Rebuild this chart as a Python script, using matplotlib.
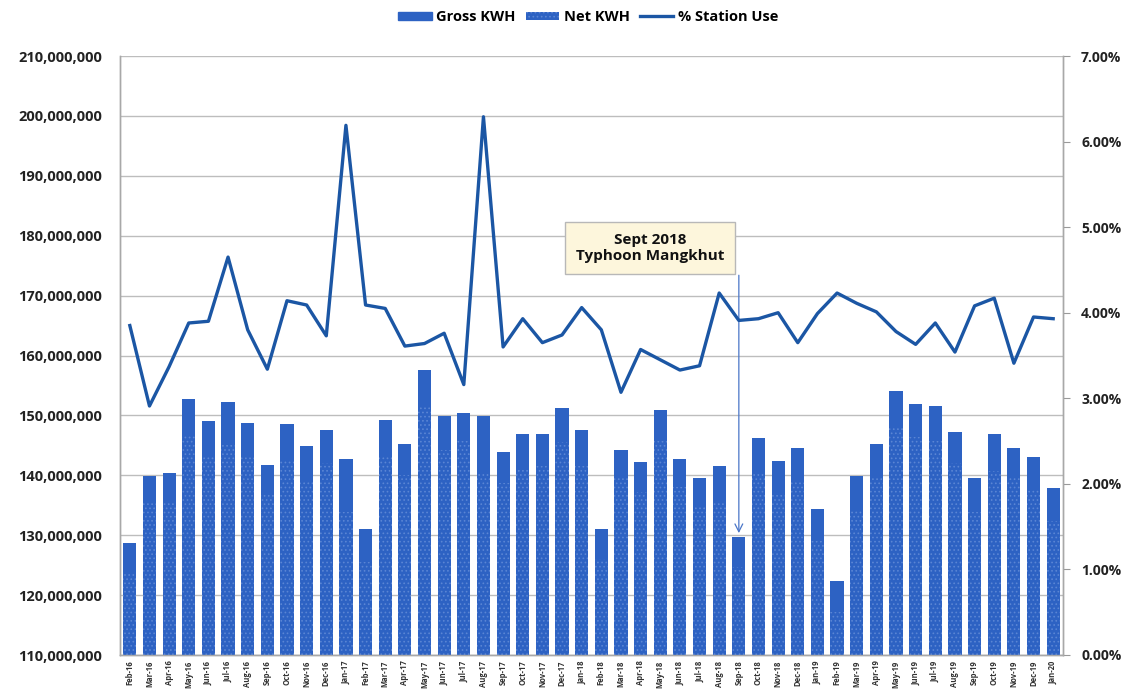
import matplotlib
matplotlib.use("Agg")
import matplotlib.pyplot as plt
from matplotlib.ticker import FuncFormatter, MultipleLocator
from matplotlib.patches import Patch
from matplotlib.lines import Line2D

months = ["Feb-16","Mar-16","Apr-16","May-16","Jun-16","Jul-16","Aug-16","Sep-16","Oct-16","Nov-16","Dec-16",
          "Jan-17","Feb-17","Mar-17","Apr-17","May-17","Jun-17","Jul-17","Aug-17","Sep-17","Oct-17","Nov-17","Dec-17",
          "Jan-18","Feb-18","Mar-18","Apr-18","May-18","Jun-18","Jul-18","Aug-18","Sep-18","Oct-18","Nov-18","Dec-18",
          "Jan-19","Feb-19","Mar-19","Apr-19","May-19","Jun-19","Jul-19","Aug-19","Sep-19","Oct-19","Nov-19","Dec-19",
          "Jan-20"]

gross_kwh = [128.75, 139.8, 140.4, 152.7, 149.1, 152.2, 148.8, 141.8, 148.6, 144.9, 147.6,
             142.7, 131.0, 149.2, 145.2, 157.5, 149.9, 150.4, 149.9, 143.9, 146.9, 146.9, 151.2,
             147.6, 131.0, 144.2, 142.3, 150.9, 142.7, 139.5, 141.6, 129.75, 146.3, 142.4, 144.5,
             134.4, 122.4, 139.8, 145.3, 154.1, 151.9, 151.6, 147.3, 139.5, 146.9, 144.5, 143.1,
             137.8]  # millions

net_kwh = [123.8, 135.7, 135.7, 146.8, 143.3, 145.1, 143.1, 137.1, 142.5, 139.0, 142.1,
           133.9, 125.6, 143.2, 140.0, 151.8, 144.3, 145.7, 140.5, 138.7, 141.1, 141.5, 145.5,
           141.6, 126.0, 139.8, 137.2, 145.7, 138.0, 134.8, 135.6, 124.7, 140.6, 136.7, 139.2,
           129.0, 117.2, 134.1, 139.5, 148.3, 146.4, 145.7, 142.1, 133.8, 140.8, 139.6, 137.5,
           132.4]  # millions

station_use_pct = [3.85, 2.91, 3.37, 3.88, 3.90, 4.65, 3.80, 3.34, 4.14, 4.09, 3.73,
                   6.19, 4.09, 4.05, 3.61, 3.64, 3.76, 3.16, 6.29, 3.60, 3.93, 3.65, 3.74,
                   4.06, 3.80, 3.07, 3.57, 3.45, 3.33, 3.38, 4.23, 3.91, 3.93, 4.00, 3.65,
                   3.99, 4.23, 4.11, 4.01, 3.78, 3.63, 3.88, 3.54, 4.08, 4.17, 3.41, 3.95,
                   3.93]

annotation_text = "Sept 2018\nTyphoon Mangkhut"
annotation_month = "Sep-18"

BAR = "#2d62c3"
HATCH = "#5a85d4"
LINE = "#1b56a4"
GRID = "#bdbdbd"
FONT = "Open Sans"

plt.rcParams["font.family"] = [FONT, "DejaVu Sans"]
plt.rcParams["hatch.linewidth"] = 0.7

fig = plt.figure(figsize=(11.36, 6.96), dpi=100)
ax = fig.add_axes([120/1136, 41/696, (1063-120)/1136, (655-56)/696])
ax2 = ax.twinx()

x = list(range(len(months)))
gross_units = [v * 1e6 for v in gross_kwh]
net_units = [v * 1e6 for v in net_kwh]

ax.bar(x, gross_units, width=0.67, color=BAR, zorder=2)
ax.bar(x, net_units, width=0.67, color=BAR, edgecolor=HATCH, hatch="....", linewidth=0, zorder=3)

ax.set_ylim(110e6, 210e6)
ax.set_xlim(-0.5, len(months) - 0.5)
ax.yaxis.set_major_locator(MultipleLocator(10e6))
ax.yaxis.set_major_formatter(FuncFormatter(lambda v, p: f"{v:,.0f}"))
ax.grid(axis="y", color=GRID, linewidth=1.0, zorder=0)
ax.set_axisbelow(True)
ax.set_xticks(x)
ax.set_xticklabels(months, rotation=90, fontsize=5.5, fontweight="bold", color="#333333")
ax.tick_params(axis="x", length=0, pad=4)
ax.tick_params(axis="y", length=0, labelsize=10.5, pad=13, labelcolor="#222222")
for lbl in ax.get_yticklabels():
    lbl.set_fontweight("bold")

ax2.plot(x, station_use_pct, color=LINE, linewidth=2.4, zorder=4)
ax2.set_ylim(0, 7)
ax2.yaxis.set_major_locator(MultipleLocator(1))
ax2.yaxis.set_major_formatter(FuncFormatter(lambda v, p: f"{v:.2f}%"))
ax2.tick_params(axis="y", length=5, width=0.8, color="#999999", labelsize=10, pad=8, labelcolor="#222222")
for lbl in ax2.get_yticklabels():
    lbl.set_fontweight("bold")

for a in (ax, ax2):
    a.spines["top"].set_visible(False)
    for s in ("left", "right", "bottom"):
        a.spines[s].set_color("#a8a8a8")
        a.spines[s].set_linewidth(1.0)

# annotation box and arrow
ai = months.index(annotation_month)
fig.text(650/1136, (696-248)/696, annotation_text, ha="center", va="center",
         fontsize=11, fontweight="bold", color="#111111", linespacing=1.15,
         bbox=dict(boxstyle="square,pad=0.72", fc="#fdf6dc", ec="#b8b8b8", lw=1.0),
         zorder=6)
ax.annotate("", xy=(ai, gross_units[ai] + 0.6e6), xytext=(ai, 173.4e6),
            arrowprops=dict(arrowstyle="->", color="#4a76c8", lw=0.9,
                            shrinkA=0, shrinkB=0, mutation_scale=14),
            zorder=6)

handles = [Patch(facecolor=BAR, edgecolor=BAR),
           Patch(facecolor=BAR, edgecolor=HATCH, hatch="....", linewidth=0),
           Line2D([0], [0], color=LINE, linewidth=2.4)]
fig.legend(handles, ["Gross KWH", "Net KWH", "% Station Use"], loc="center",
           bbox_to_anchor=(588/1136, (696-17)/696), ncol=3, frameon=False,
           prop={"weight": "bold", "size": 10.5}, handlelength=2.3, handleheight=0.45,
           columnspacing=0.7, handletextpad=0.3)

fig.savefig("out.png", dpi=100)
